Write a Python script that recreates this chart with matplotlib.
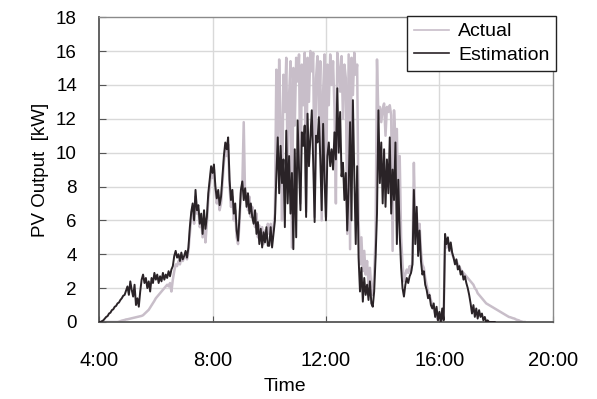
import numpy as np
import matplotlib.pyplot as plt

# Global font settings (Arial-like)
plt.rcParams['font.family'] = ['Liberation Sans', 'DejaVu Sans']
plt.rcParams['font.size'] = 13

# Sampling step of both series, in minutes, starting at 4:00
step_min = 3

# Estimated PV output [kW], one row per hour (4:00 ... 17:57)
estimation = [
    0, 0, 0.05, 0.1, 0.2, 0.3, 0.35, 0.5, 0.55, 0.7, 0.75, 0.9, 0.95, 1.1, 1.15, 1.3, 1.4, 1.55, 1.6, 1.85,  # 4h
    2.1, 1.6, 2.4, 1.9, 1.5, 2.2, 1.0, 1.4, 0.9, 1.8, 2.5, 2.8, 2.3, 2.6, 2.0, 2.4, 1.8, 2.6, 2.3, 2.9,  # 5h
    2.5, 2.8, 2.3, 2.7, 2.4, 2.9, 2.5, 2.8, 2.6, 3.0, 2.7, 3.1, 3.3, 3.9, 4.2, 3.8, 4.0, 3.6, 4.1, 3.7,  # 6h
    3.9, 4.2, 3.8, 4.4, 5.6, 6.5, 7.0, 6.0, 7.8, 6.6, 6.9, 5.8, 6.4, 5.2, 6.6, 5.5, 6.2, 7.6, 8.4, 9.2,  # 7h
    8.8, 9.3, 8.0, 7.3, 7.8, 6.9, 7.4, 8.6, 9.8, 10.6, 10.2, 10.9, 8.4, 7.2, 7.8, 6.4, 7.0, 5.4, 4.8, 6.2,  # 8h
    7.8, 8.3, 7.2, 7.9, 6.8, 7.6, 6.4, 7.0, 6.2, 5.8, 6.6, 5.2, 5.9, 4.6, 5.5, 4.4, 5.3, 4.7, 5.6, 4.5,  # 9h
    4.5, 5.6, 4.4, 5.2, 6.0, 8.6, 10.9, 7.6, 10.4, 8.2, 9.6, 5.6, 11.3, 7.0, 9.8, 6.4, 8.8, 4.3, 10.2, 5.0,  # 10h
    11.9, 9.0, 6.6, 11.2, 10.4, 11.6, 6.2, 12.3, 9.2, 10.8, 12.5, 9.4, 5.9, 11.0, 10.6, 12.1, 9.6, 6.6, 11.7, 8.4,  # 11h
    6.0, 9.8, 10.6, 9.2, 10.2, 9.0, 11.2, 9.6, 13.8, 10.0, 12.4, 8.6, 9.4, 7.2, 8.8, 5.4, 8.0, 11.8, 6.0, 13.1,  # 12h
    8.6, 4.6, 9.2, 3.8, 1.8, 3.2, 1.2, 2.6, 1.6, 2.2, 1.3, 2.4, 1.1, 0.9, 1.8, 3.8, 6.4, 12.5, 8.2, 10.6,  # 13h
    7.0, 10.2, 6.8, 9.6, 7.6, 10.9, 6.4, 9.0, 7.2, 10.6, 4.6, 8.4, 5.2, 3.2, 2.0, 1.5, 2.2, 2.6, 2.3, 2.7,  # 14h
    2.9, 3.4, 7.8, 4.6, 6.8, 3.9, 5.4, 3.6, 2.8, 3.0, 2.2, 1.9, 1.4, 1.6, 1.0, 0.8, 1.1, 0.3, 0.9, 0.1,  # 15h
    0.6, 0.0, 0.8, 0.1, 5.2, 4.6, 5.0, 4.2, 4.7, 4.1, 3.8, 3.4, 3.7, 3.1, 3.3, 2.8, 3.0, 2.5, 2.7, 2.3,  # 16h
    2.0, 1.6, 1.1, 0.5, 1.0, 0.3, 0.8, 0.2, 0.7, 0.3, 0.5, 0.1, 0.3, 0.0, 0.1, 0.0, 0.0, 0.0, 0.0, 0.0,  # 17h
]

# Actual PV output [kW], one row per hour (4:00 ... 19:00)
actual = [
    0, 0, 0, 0, 0, 0, 0, 0, 0, 0, 0, 0, 0, 0, 0.02, 0.05, 0.08, 0.1, 0.12, 0.15,  # 4h
    0.16, 0.18, 0.2, 0.22, 0.24, 0.26, 0.28, 0.3, 0.32, 0.34, 0.36, 0.4, 0.48, 0.56, 0.64, 0.72, 0.85, 0.98, 1.1, 1.25,  # 5h
    1.4, 1.5, 1.6, 1.7, 1.8, 1.9, 2.0, 2.1, 2.2, 2.1, 2.3, 1.8, 2.5, 3.0, 3.4, 3.3, 3.6, 3.4, 3.8, 3.6,  # 6h
    3.8, 4.0, 3.7, 4.2, 5.2, 6.2, 6.8, 5.8, 7.4, 6.4, 6.6, 5.6, 6.0, 5.0, 6.2, 4.7, 5.8, 7.2, 8.0, 8.8,  # 7h
    8.5, 9.0, 7.8, 7.0, 7.5, 6.6, 7.0, 8.2, 9.4, 10.2, 9.8, 10.5, 8.0, 6.8, 7.4, 6.0, 6.6, 5.0, 4.6, 5.8,  # 8h
    7.6, 8.0, 11.8, 7.2, 7.6, 6.6, 7.4, 6.2, 6.8, 6.0, 5.6, 6.4, 5.0, 5.7, 4.8, 5.6, 4.6, 5.4, 5.0, 5.8,  # 9h
    5.2, 5.8, 5.0, 5.6, 6.4, 14.9, 9.6, 15.5, 11.8, 6.0, 14.6, 12.4, 15.6, 8.8, 13.4, 15.4, 4.4, 15.0, 11.6, 15.6,  # 10h
    14.2, 15.8, 7.0, 15.2, 12.8, 15.9, 6.5, 15.6, 13.0, 16.0, 14.8, 15.9, 6.2, 14.4, 15.7, 12.2, 15.4, 6.0, 13.6, 15.8,  # 11h
    6.2, 15.2, 12.8, 15.8, 14.0, 15.4, 12.6, 7.0, 15.9, 15.0, 13.6, 15.7, 12.0, 15.2, 14.4, 5.2, 15.8, 4.3, 15.6, 13.4,  # 12h
    15.9, 14.6, 15.2, 6.0, 3.4, 5.0, 3.0, 4.2, 2.8, 3.6, 2.2, 3.2, 2.0, 1.6, 2.8, 5.0, 15.5, 12.0, 12.7, 11.8,  # 13h
    12.6, 12.9, 11.0, 12.7, 12.4, 12.8, 12.2, 4.2, 12.5, 10.6, 11.4, 6.6, 9.8, 5.0, 3.4, 2.4, 2.8, 3.1, 2.9, 3.3,  # 14h
    3.0, 3.6, 9.4, 5.6, 6.4, 5.0, 5.8, 4.2, 3.4, 3.2, 2.6, 2.2, 1.8, 1.6, 1.3, 1.0, 0.8, 0.5, 0.3, 0.1,  # 15h
    0.1, 0.0, 0.2, 0.3, 4.8, 4.4, 4.8, 4.2, 4.4, 4.0, 3.8, 3.6, 3.6, 3.4, 3.3, 3.1, 3.0, 2.9, 2.8, 2.7,  # 16h
    2.6, 2.5, 2.4, 2.3, 2.2, 2.0, 1.9, 1.7, 1.6, 1.5, 1.4, 1.3, 1.2, 1.1, 1.05, 1.0, 0.95, 0.9, 0.85, 0.8,  # 17h
    0.75, 0.7, 0.65, 0.6, 0.55, 0.5, 0.45, 0.4, 0.35, 0.3, 0.28, 0.25, 0.22, 0.2, 0.15, 0.12, 0.1, 0.05, 0.03, 0.0,  # 18h
    0.0,  # 19:00
]

x_ticks = [4, 8, 12, 16, 20]
x_tick_labels = ['4:00', '8:00', '12:00', '16:00', '20:00']
y_ticks = [0, 2, 4, 6, 8, 10, 12, 14, 16, 18]


def pv_output():
    # Time axis in decimal hours
    t_act = 4 + np.arange(len(actual)) * step_min / 60
    t_est = 4 + np.arange(len(estimation)) * step_min / 60

    fig = plt.figure(figsize=(5.97, 3.99), dpi=100)
    ax = fig.add_axes([0.166, 0.193, 0.76, 0.764])

    # Grid
    for y in y_ticks[1:-1]:
        ax.axhline(y, color='#d9d9d9', lw=1.0, zorder=0)
    for x in x_ticks[1:-1]:
        ax.axvline(x, color='#d9d9d9', lw=1.0, zorder=0)

    # Series
    ax.plot(t_act, actual, color='#c8bec9', lw=1.8, label='Actual', zorder=2)
    ax.plot(t_est, estimation, color='#2a2327', lw=1.4, label='Estimation', zorder=3)

    ax.set_xlim(4, 20)
    ax.set_ylim(0, 18)
    ax.set_xticks(x_ticks)
    ax.set_xticklabels(x_tick_labels, fontsize=14.5)
    ax.set_yticks(y_ticks)
    ax.tick_params(axis='x', direction='in', length=4, pad=21, color='#555555')
    ax.tick_params(axis='y', direction='in', length=5, pad=16, color='#555555', labelsize=13.5)

    for side in ['left', 'bottom']:
        ax.spines[side].set_color('#555555')
        ax.spines[side].set_linewidth(1.3)
    for side in ['top', 'right']:
        ax.spines[side].set_color('#8a8a8a')
        ax.spines[side].set_linewidth(1.0)

    ax.set_xlabel('Time', fontsize=14)
    ax.xaxis.set_label_coords(0.41, -0.185)
    ax.set_ylabel('PV Output  [kW]', fontsize=13.5, labelpad=5)

    # Legend
    leg = ax.legend(loc='upper right', bbox_to_anchor=(1.008, 1.004), fontsize=14,
                    frameon=True, fancybox=False, edgecolor='#222222', framealpha=1,
                    handlelength=1.8, handletextpad=0.5, borderpad=0.35, labelspacing=0.3,
                    borderaxespad=0)
    leg.get_frame().set_linewidth(1.0)
    for line in leg.get_lines():
        line.set_linewidth(1.2)

    fig.savefig('out.png', dpi=100)


def main():
    pv_output()


if __name__ == '__main__':
    main()
